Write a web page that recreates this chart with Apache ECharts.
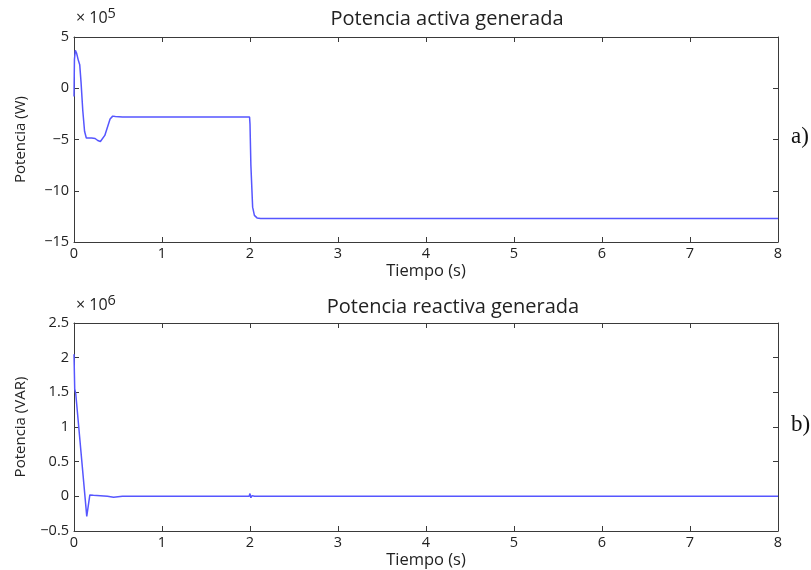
<!DOCTYPE html>
<html>
<head>
<meta charset="utf-8">
<script src="https://cdn.jsdelivr.net/npm/echarts@6/dist/echarts.min.js"></script>
<style>html,body{margin:0;padding:0;background:#fff}#c{width:811px;height:570px}</style>
</head>
<body>
<div id="c"></div>
<script>
// Potencia activa (x 10^5 W)
const timeActive  = [0, 0.005, 0.015, 0.03, 0.05, 0.065, 0.08, 0.1, 0.12, 0.14, 0.16, 0.2, 0.24, 0.27, 0.3, 0.32, 0.35, 0.38, 0.41, 0.44, 0.47, 0.55, 1.0, 1.995, 2.0, 2.01, 2.03, 2.05, 2.08, 2.12, 3, 5, 8];
const powerActive = [-0.8, 2.8, 3.7, 3.4, 2.7, 2.3, 0.6, -2.2, -4.2, -4.85, -4.9, -4.85, -4.9, -5.1, -5.2, -5.1, -4.6, -3.8, -3.0, -2.72, -2.75, -2.8, -2.8, -2.8, -3.5, -7.5, -11.6, -12.4, -12.65, -12.7, -12.7, -12.7, -12.7];
// Potencia reactiva (x 10^6 VAR)
const timeReactive  = [0, 0.008, 0.02, 0.145, 0.18, 0.22, 0.3, 0.38, 0.45, 0.55, 1.0, 1.99, 2.0, 2.01, 2.025, 2.05, 3, 8];
const powerReactive = [2.05, 1.55, 1.48, -0.29, 0.02, 0.015, 0.01, 0.0, -0.012, 0.0, 0.0, 0.0, 0.04, -0.02, 0.01, 0.0, 0.0, 0.0];

const xMin = 0, xMax = 8, xInterval = 1;
const yActive = {min: -15, max: 5, interval: 5};
const yReactive = {min: -0.5, max: 2.5, interval: 0.5};

const titles = ['Potencia activa generada', 'Potencia reactiva generada'];
const yNames = ['Potencia (W)', 'Potencia (VAR)'];
const xName = 'Tiempo (s)';

const FONT = 'Open Sans';
const axisColor = '#3a3a3a';
const lineColor = '#5656ff';
const txt = '#222';

const chart = echarts.init(document.getElementById('c'));

function xAxis(grid, main) {
  return {
    type: 'value', gridIndex: grid, min: xMin, max: xMax, interval: xInterval,
    position: main ? 'bottom' : 'top',
    name: main ? xName : '', nameLocation: 'middle', nameGap: 21,
    nameTextStyle: {fontFamily: FONT, fontSize: 16.5, color: txt},
    axisLine: {show: true, onZero: false, lineStyle: {color: axisColor, width: 1}},
    axisTick: {show: true, inside: true, length: 5, lineStyle: {color: axisColor}},
    axisLabel: {show: main, fontFamily: FONT, fontSize: 14.5, color: txt, margin: 4},
    splitLine: {show: false}
  };
}
function yAxis(grid, main, r, name) {
  return {
    type: 'value', gridIndex: grid, min: r.min, max: r.max, interval: r.interval,
    position: main ? 'left' : 'right',
    name: main ? name : '', nameLocation: 'middle', nameGap: 46,
    nameTextStyle: {fontFamily: FONT, fontSize: 15, color: txt},
    axisLine: {show: true, onZero: false, lineStyle: {color: axisColor, width: 1}},
    axisTick: {show: true, inside: true, length: 5, lineStyle: {color: axisColor}},
    axisLabel: {show: main, fontFamily: FONT, fontSize: 14.5, color: txt, margin: 5,
      formatter: v => String(v).replace('-', '\u2212')},
    splitLine: {show: false}
  };
}

const option = {
  backgroundColor: '#fff',
  animation: false,
  title: [
    {text: titles[0], left: 442, top: 4, textAlign: 'center',
     textStyle: {fontFamily: FONT, fontSize: 20, fontWeight: 'normal', color: txt}},
    {text: titles[1], left: 448, top: 292, textAlign: 'center',
     textStyle: {fontFamily: FONT, fontSize: 20, fontWeight: 'normal', color: txt}}
  ],
  grid: [
    {left: 74, top: 37, width: 704, height: 205},
    {left: 74, top: 323, width: 704, height: 208}
  ],
  xAxis: [xAxis(0, true), xAxis(0, false), xAxis(1, true), xAxis(1, false)],
  yAxis: [yAxis(0, true, yActive, yNames[0]), yAxis(0, false, yActive),
          yAxis(1, true, yReactive, yNames[1]), yAxis(1, false, yReactive)],
  series: [
    {type: 'line', xAxisIndex: 0, yAxisIndex: 0, showSymbol: false, smooth: false,
     lineStyle: {color: lineColor, width: 1.5},
     data: timeActive.map((t, i) => [t, powerActive[i]])},
    {type: 'line', xAxisIndex: 2, yAxisIndex: 2, showSymbol: false, smooth: false,
     lineStyle: {color: lineColor, width: 1.5},
     data: timeReactive.map((t, i) => [t, powerReactive[i]])}
  ],
  graphic: [
    {type: 'text', left: 76, top: 6, style: {text: '\u00d7 10{s|5}', fontFamily: FONT, fontSize: 16, fill: txt,
      rich: {s: {fontFamily: FONT, fontSize: 14.5, fill: txt, padding: [0,0,10,0]}}}},
    {type: 'text', left: 76, top: 293, style: {text: '\u00d7 10{s|6}', fontFamily: FONT, fontSize: 16, fill: txt,
      rich: {s: {fontFamily: FONT, fontSize: 14.5, fill: txt, padding: [0,0,10,0]}}}},
    {type: 'text', left: 791, top: 125, style: {text: 'a)', fontFamily: 'Liberation Serif', fontSize: 23, fill: '#111'}},
    {type: 'text', left: 791, top: 413, style: {text: 'b)', fontFamily: 'Liberation Serif', fontSize: 23, fill: '#111'}}
  ]
};
chart.setOption(option);
</script>
</body>
</html>
